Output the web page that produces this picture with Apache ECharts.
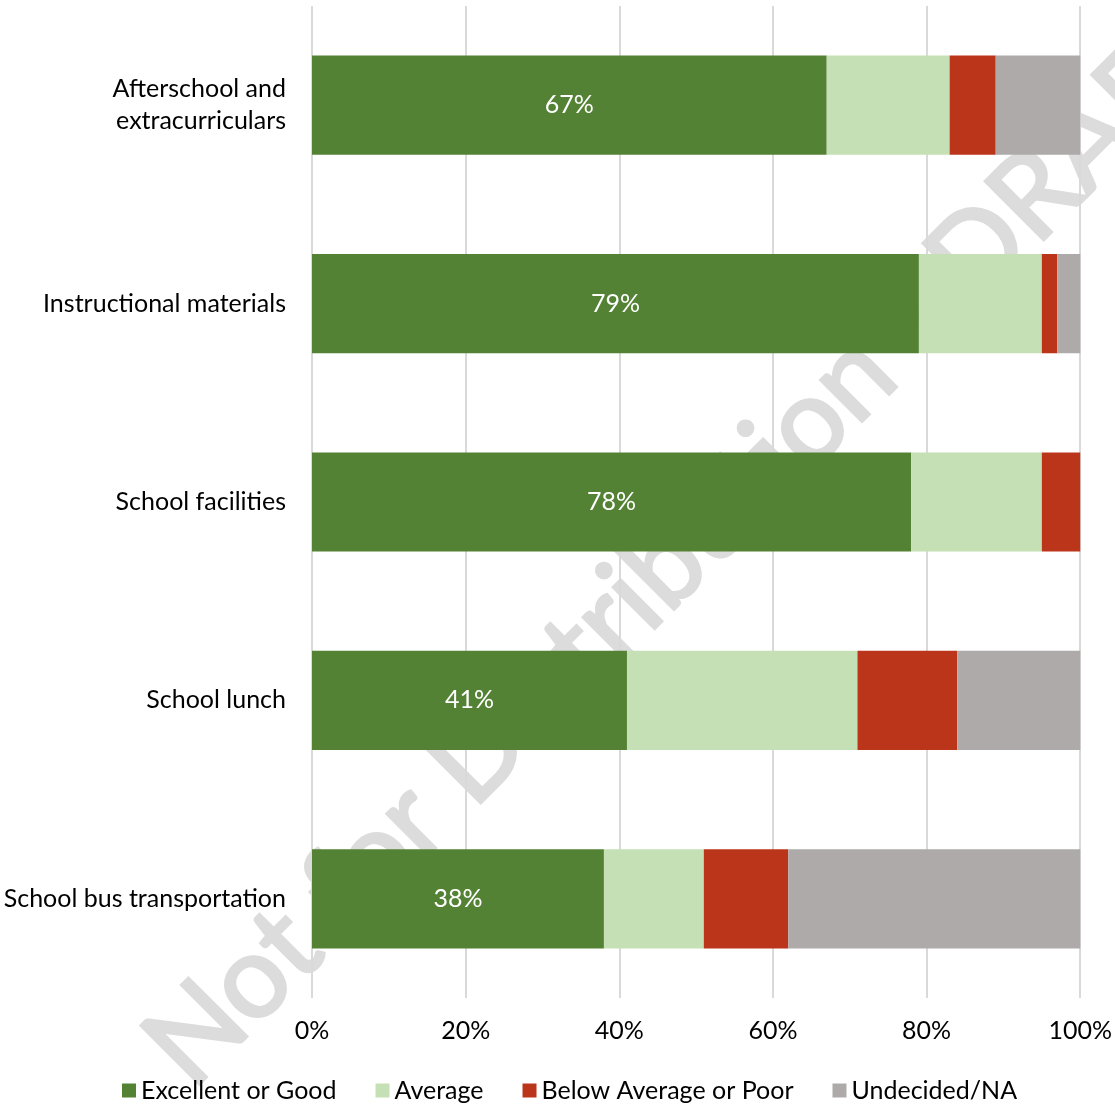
<!DOCTYPE html>
<html>
<head>
	<meta charset="UTF-8">
	<title>School services ratings</title>
	<script src="https://cdn.jsdelivr.net/npm/echarts@6/dist/echarts.min.js"></script>
	<style>
		html, body { margin: 0; padding: 0; background: #fff; }
		#chart01 { width: 1115px; height: 1104px; }
	</style>
</head>
<body>
	<div id="chart01"></div>
	<script>
		// 数据
		var categories = ['Afterschool and\nextracurriculars', 'Instructional materials', 'School facilities', 'School lunch', 'School bus transportation'];
		var seriesNames = ['Excellent or Good', 'Average', 'Below Average or Poor', 'Undecided/NA'];
		var excellentGood = [67, 79, 78, 41, 38];
		var average = [16, 16, 17, 30, 13];
		var belowPoor = [6, 2, 5, 13, 11];
		var undecided = [11, 3, 0, 16, 38];
		var xTicks = [0, 20, 40, 60, 80, 100];
		var colors = ['#548235', '#c5e0b4', '#bb351b', '#aeaaaa'];
		var watermark = 'Not for Distribution - DRAFT';

		var fontName = 'Lato';
		var chart01 = echarts.init(document.getElementById('chart01'));

		// 水印位置: 按 "Distribution" 的 D 起点和 "ion" 的 o 中心对齐
		function watermarkLayout() {
			var ctx = document.createElement('canvas').getContext('2d');
			ctx.font = '100px ' + fontName;
			var wPre = ctx.measureText('Not for ').width;
			var wO = ctx.measureText('Not for Distributi').width + ctx.measureText('o').width / 2;
			var size = 100 * 509 / (wO - wPre);
			var ang = Math.PI / 4;
			var ux = Math.cos(ang), uy = -Math.sin(ang);
			var pre = wPre * size / 100;
			// 基线上 N 的起点
			var bx = 473 - pre * ux, by = 810 - pre * uy;
			// middle 相对基线的偏移
			var mid = 0.32 * size;
			return {
				x: bx - mid * Math.sin(ang),
				y: by - mid * Math.cos(ang),
				size: size,
				rotation: ang
			};
		}
		var wm = watermarkLayout();

		function makeSeries(name, values, color, withLabel) {
			return {
				name: name,
				type: 'bar',
				stack: 'total',
				barWidth: '50%',
				data: values,
				z: 2,
				itemStyle: { color: color },
				label: {
					show: withLabel,
					position: 'inside',
					color: '#fff',
					fontFamily: fontName,
					fontSize: 25,
					formatter: '{c}%'
				}
			};
		}

		var option01 = {
			animation: false,
			color: colors,
			grid: {
				left: 312,
				right: 33,
				top: 6,
				bottom: 106
			},
			graphic: [{
				type: 'text',
				x: wm.x,
				y: wm.y,
				rotation: wm.rotation,
				z: 0,
				silent: true,
				style: {
					text: watermark,
					fill: '#dcdcdc',
					stroke: '#dcdcdc',
					lineWidth: 3,
					lineJoin: 'round',
					fontFamily: fontName,
					fontSize: wm.size,
					textAlign: 'left',
					textVerticalAlign: 'middle'
				}
			}],
			legend: {
				data: seriesNames,
				top: 1073,
				left: 117,
				itemWidth: 14,
				itemHeight: 14,
				itemGap: 39,
				icon: 'rect',
				textStyle: {
					color: '#000',
					fontFamily: fontName,
					fontSize: 25
				}
			},
			xAxis: {
				type: 'value',
				min: xTicks[0],
				max: xTicks[xTicks.length - 1],
				interval: xTicks[1] - xTicks[0],
				z: 1,
				axisLine: { show: false },
				axisTick: { show: false },
				splitLine: {
					lineStyle: { color: '#d9d9d9', width: 2 }
				},
				axisLabel: {
					margin: 20,
					color: '#000',
					fontFamily: fontName,
					fontSize: 25,
					formatter: '{value}%'
				}
			},
			yAxis: {
				type: 'category',
				inverse: true,
				data: categories,
				axisLine: { show: false },
				axisTick: { show: false },
				axisLabel: {
					margin: 26,
					color: '#000',
					fontFamily: fontName,
					fontSize: 25,
					lineHeight: 32,
					align: 'right'
				}
			},
			series: [
				makeSeries(seriesNames[0], excellentGood, colors[0], true),
				makeSeries(seriesNames[1], average, colors[1], false),
				makeSeries(seriesNames[2], belowPoor, colors[2], false),
				makeSeries(seriesNames[3], undecided, colors[3], false)
			]
		};

		chart01.setOption(option01);
	</script>
</body>
</html>
